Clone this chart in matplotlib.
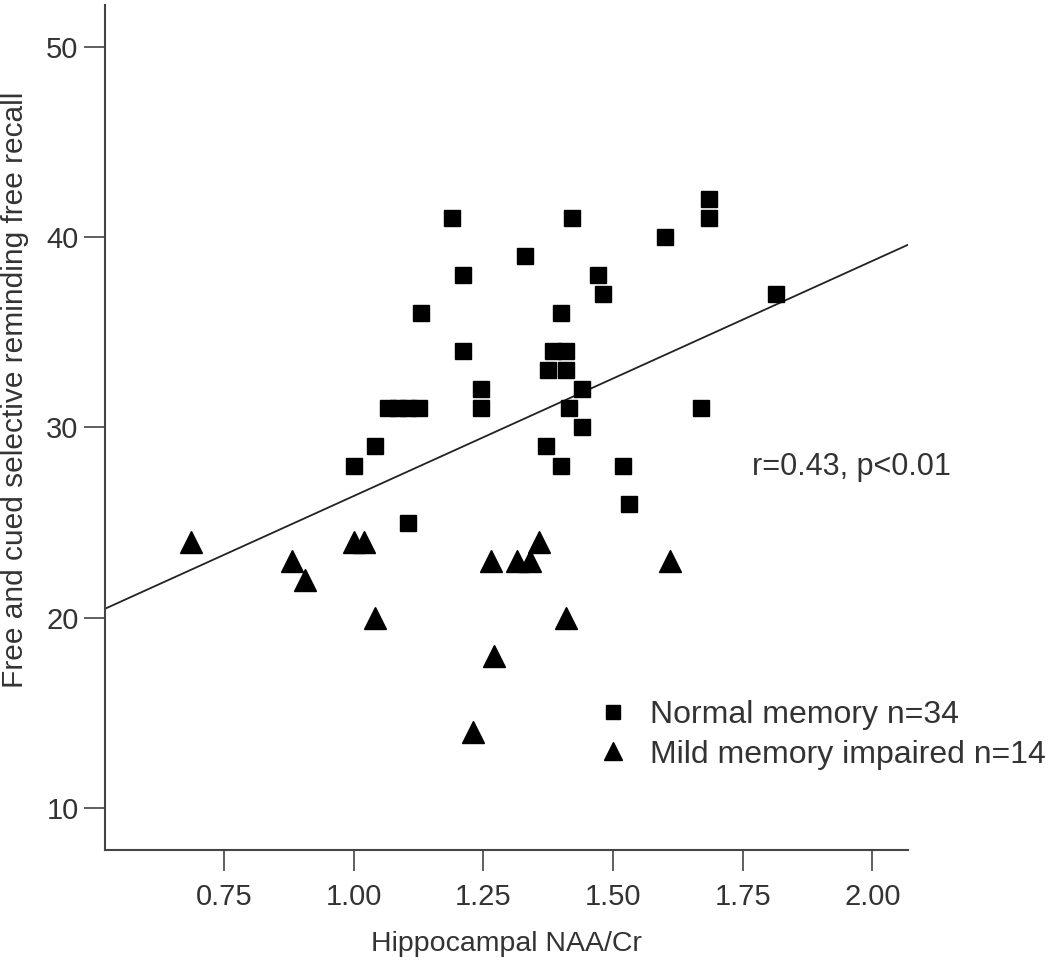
import numpy as np
import matplotlib.pyplot as plt

plt.rcParams['font.family'] = ['Liberation Sans', 'DejaVu Sans']

# normal memory group (squares)
normal_x = [1.19, 1.42, 1.33, 1.21, 1.47, 1.48, 1.13, 1.40, 1.21, 1.385, 1.41,
            1.375, 1.41, 1.44, 1.245, 1.245, 1.065, 1.085, 1.105, 1.125, 1.415,
            1.44, 1.04, 1.37, 1.00, 1.40, 1.52, 1.67, 1.53, 1.105, 1.685, 1.685,
            1.60, 1.815]
normal_y = [41, 41, 39, 38, 38, 37, 36, 36, 34, 34, 34,
            33, 33, 32, 32, 31, 31, 31, 31, 31, 31,
            30, 29, 29, 28, 28, 28, 31, 26, 25, 42, 41,
            40, 37]

# mild memory impaired group (triangles)
mild_x = [0.685, 0.88, 0.905, 1.00, 1.02, 1.04, 1.23, 1.265, 1.27, 1.315,
          1.34, 1.358, 1.41, 1.61]
mild_y = [24, 23, 22, 24, 24, 20, 14, 23, 18, 23,
          23, 24, 20, 23]

# regression line
fit_intercept = 14.05
fit_slope = 12.35

xticks = [0.75, 1.00, 1.25, 1.50, 1.75, 2.00]
yticks = [10, 20, 30, 40, 50]
xlim = (0.52, 2.069)
ylim = (7.79, 52.2)

grey = '#444444'
txt = '#333333'

fig = plt.figure(figsize=(10.5, 9.66), dpi=100)
ax = fig.add_axes([0.1, 0.12, 0.7648, 0.8748])

line_x = np.array(xlim)
ax.plot(line_x, fit_intercept + fit_slope * line_x, color='#222222', lw=1.3, zorder=2)

ax.plot(normal_x, normal_y, linestyle='None', marker='s', markersize=12.2,
        color='black', label='Normal memory n=34', zorder=3)
ax.plot(mild_x, mild_y, linestyle='None', marker='^', markersize=16,
        color='black', label='Mild memory impaired n=14', zorder=3)

ax.set_xlim(xlim)
ax.set_ylim(ylim)
ax.set_xticks(xticks)
ax.set_xticklabels(['%.2f' % v for v in xticks])
ax.set_yticks(yticks)

for s in ['top', 'right']:
    ax.spines[s].set_visible(False)
for s in ['left', 'bottom']:
    ax.spines[s].set_color(grey)
    ax.spines[s].set_linewidth(1.5)

ax.tick_params(axis='both', length=15, width=1.2, color=grey,
               labelsize=21, labelcolor=txt)
ax.tick_params(axis='y', pad=4)
ax.tick_params(axis='x', pad=9)

ax.set_xlabel('Hippocampal NAA/Cr', fontsize=20.5, color=txt, labelpad=14)
ax.set_ylabel('Free and cued selective reminding free recall', fontsize=21.5,
              color=txt, labelpad=10)
ax.yaxis.set_label_coords(-0.095, 0.545)

ax.text(752 / 1050, 1 - 467 / 966, 'r=0.43, p<0.01', transform=fig.transFigure,
        fontsize=22, color=txt, va='center', ha='left')

ax.legend(loc='upper left', bbox_to_anchor=(599 / 1050, 1 - 700 / 966),
          bbox_transform=fig.transFigure, frameon=False, fontsize=23,
          handlelength=0.9, handletextpad=0.7, labelspacing=0.3, borderpad=0,
          borderaxespad=0, labelcolor=txt, markerscale=0.8)

fig.savefig('out.png', dpi=100)
